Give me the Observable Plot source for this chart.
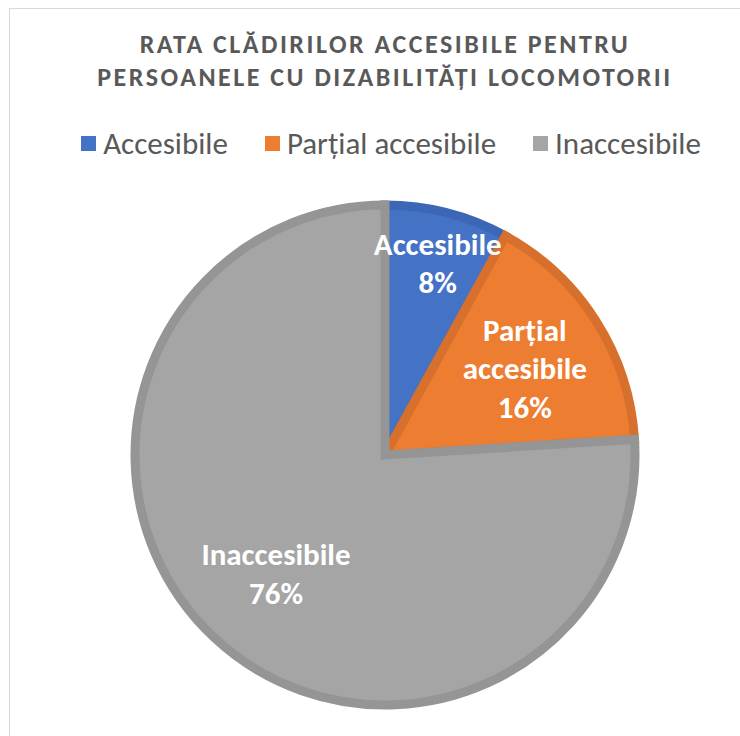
<!DOCTYPE html>
<html>
<head>
<meta charset="utf-8">
<script src="https://cdn.jsdelivr.net/npm/d3@7"></script>
<script src="https://cdn.jsdelivr.net/npm/@observablehq/plot@0.6"></script>
<style>
  html, body { margin: 0; padding: 0; background: #fff; overflow: hidden; }
  body { width: 740px; height: 736px; position: relative; font-family: Carlito, Calibri, Lato, sans-serif; }
  #frame { position: absolute; left: 9px; top: 8px; width: 760px; height: 760px; border: 1px solid #d9d9d9; box-sizing: border-box; }
  #title { position: absolute; left: 0; top: 28px; width: 770px; text-align: center; font-weight: 900; font-size: 26px; line-height: 33px; color: #595959; letter-spacing: 2.5px; }
  #legend { position: absolute; left: 0; top: 124px; width: 782px; display: flex; justify-content: center; gap: 37px; font-size: 31px; color: #595959; }
  #legend .item { display: flex; align-items: center; gap: 7px; }
  #legend .sw { width: 15px; height: 15px; display: inline-block; }
  #chart { position: absolute; left: 0; top: 180px; }
</style>
</head>
<body>
<div id="frame"></div>
<div id="title">RATA CLĂDIRILOR ACCESIBILE PENTRU<br>PERSOANELE CU DIZABILITĂȚI LOCOMOTORII</div>
<div id="legend"></div>
<div id="chart"></div>
<script>
const categories = ["Accesibile", "Parțial accesibile", "Inaccesibile"];
const labelLines = [["Accesibile"], ["Parțial", "accesibile"], ["Inaccesibile"]];
const values = [8, 16, 76];
const fills = ["#4472C4", "#ED7D31", "#A5A5A5"];
const strokes = ["#3C67B6", "#D6702C", "#959595"];

// legend
const legend = document.getElementById("legend");
categories.forEach((c, i) => {
  const it = document.createElement("div");
  it.className = "item";
  it.innerHTML = `<span class="sw" style="background:${fills[i]}"></span><span>${c}</span>`;
  legend.appendChild(it);
});

const total = d3.sum(values);
const pie = d3.pie().sort(null).value(d => d.value)(categories.map((c, i) => ({c, value: values[i], i})));
const labelR = [0.80, 0.66, 0.64];
const labels = pie.map((a, k) => {
  const mid = (a.startAngle + a.endAngle) / 2;
  const pct = Math.round(a.data.value / total * 100) + "%";
  return {x: labelR[k] * Math.sin(mid) + (k === 0 ? 0.01 : 0), y: labelR[k] * Math.cos(mid), text: [...labelLines[k], pct].join("\n")};
});

const W = 740, H = 556, cx = 385, cy = 275, R = 250;

const slices = (index, scales, values, dimensions) => {
  const sx = scales.x, sy = scales.y;
  const ox = sx(0), oy = sy(0);
  const r = sx(1) - sx(0);
  const g = d3.create("svg:g");
  const arc = d3.arc().innerRadius(0).outerRadius(r);
  pie.forEach((a, k) => {
    g.append("path")
      .attr("d", arc(a))
      .attr("transform", `translate(${ox},${oy})`)
      .attr("fill", fills[k])
      .attr("stroke", strokes[k])
      .attr("stroke-width", 9)
      .attr("stroke-linejoin", "miter");
  });
  return g.node();
};

const plot = Plot.plot({
  width: W,
  height: H,
  margin: 0,
  x: {domain: [-1, 1], range: [cx - R, cx + R], axis: null},
  y: {domain: [-1, 1], range: [cy + R, cy - R], axis: null},
  style: {background: "transparent"},
  marks: [
    slices,
    Plot.text(labels, {x: "x", y: "y", text: "text", fill: "white", fontSize: 31, fontWeight: "bold", lineHeight: 1.24, fontFamily: "Carlito, Calibri, Lato, sans-serif"})
  ]
});
document.getElementById("chart").appendChild(plot);
</script>
</body>
</html>
